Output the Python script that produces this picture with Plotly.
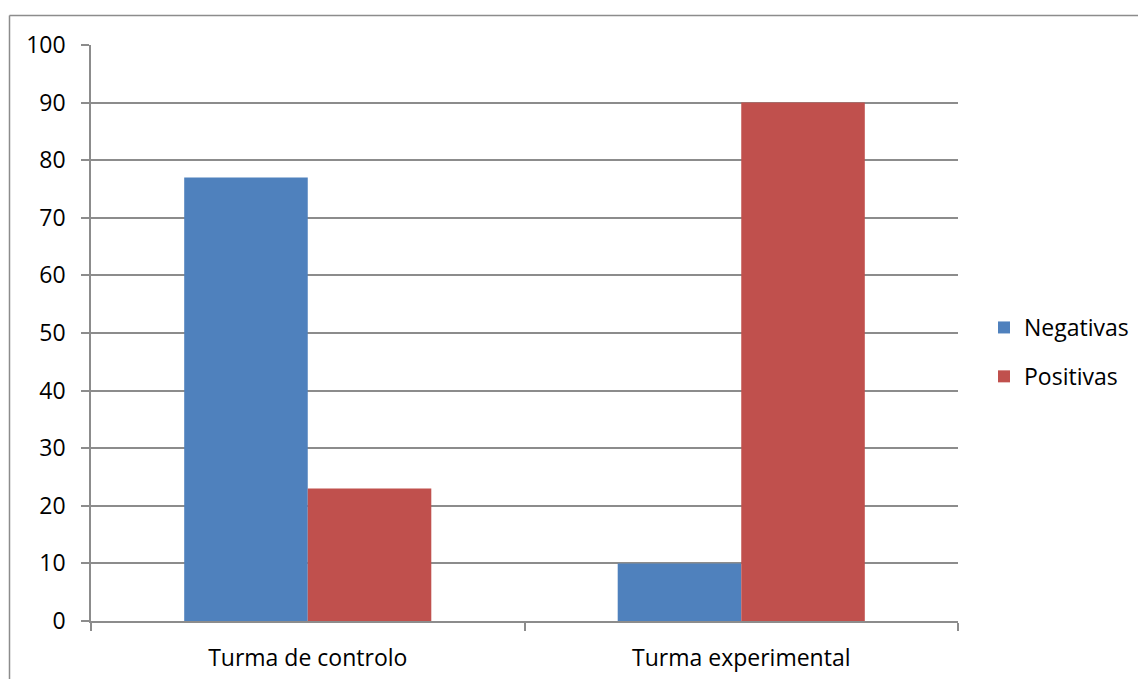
import plotly.graph_objects as go

categories = ["Turma de controlo", "Turma experimental"]
negativas = [77, 10]
positivas = [23, 90]
y_ticks = [0, 10, 20, 30, 40, 50, 60, 70, 80, 90, 100]

# page body has an 8px default margin; work in reference coordinates and shift
OFF = 8
W, H = 1146 - OFF, 679 - OFF
L, R, T, B = 91 - OFF, 958 - OFF, 45 - OFF, 621 - OFF
FONT = "Open Sans"
FS = 23

def px(x):
    return (x - OFF - L) / (R - L)

def py(y):
    return (B - (y - OFF)) / (B - T)

fig = go.Figure()
fig.add_trace(go.Bar(name="Negativas", x=categories, y=negativas,
                     marker=dict(color="#4F81BD", line=dict(width=0)), legendgroup="a"))
fig.add_trace(go.Bar(name="Positivas", x=categories, y=positivas,
                     marker=dict(color="#C0504D", line=dict(width=0)), legendgroup="b"))

fig.update_layout(
    width=W, height=H,
    margin=dict(l=L, r=W - R, t=T, b=H - B, pad=0, autoexpand=False),
    paper_bgcolor="white", plot_bgcolor="white",
    barmode="group", bargap=0.43, bargroupgap=0,
    font=dict(family=FONT, size=FS, color="black"),
    showlegend=True,
    legend=dict(x=px(984), y=py(352), xanchor="left", yanchor="middle",
                traceorder="grouped", tracegroupgap=16,
                font=dict(family=FONT, size=FS, color="black"),
                bgcolor="rgba(0,0,0,0)"),
    xaxis=dict(showline=True, linecolor="#8C8C8C", linewidth=1.5, automargin=False,
               ticks="outside", tickson="boundaries", ticklen=8, tickcolor="#8C8C8C",
               tickwidth=1.5, showgrid=False, tickfont=dict(size=FS, color="black"),
               ticklabelstandoff=16),
    yaxis=dict(range=[0, 100], tickvals=y_ticks, showline=True, linecolor="#8C8C8C",
               linewidth=1.5, ticks="outside", ticklen=8, tickcolor="#8C8C8C", tickwidth=1.5,
               showgrid=True, gridcolor="#8C8C8C", gridwidth=1.5, zeroline=False,
               automargin=False,
               tickfont=dict(size=FS, color="black"), ticklabelstandoff=11),
)

# outer frame (left and top edges visible)
fig.add_shape(type="line", xref="paper", yref="paper",
              x0=px(9.5), x1=px(9.5), y0=py(15.5), y1=py(679 + 5),
              line=dict(color="#8C8C8C", width=1.5))
fig.add_shape(type="line", xref="paper", yref="paper",
              x0=px(9.5), x1=px(1146 + 5), y0=py(15.5), y1=py(15.5),
              line=dict(color="#8C8C8C", width=1.5))

fig.write_html("out.html")
